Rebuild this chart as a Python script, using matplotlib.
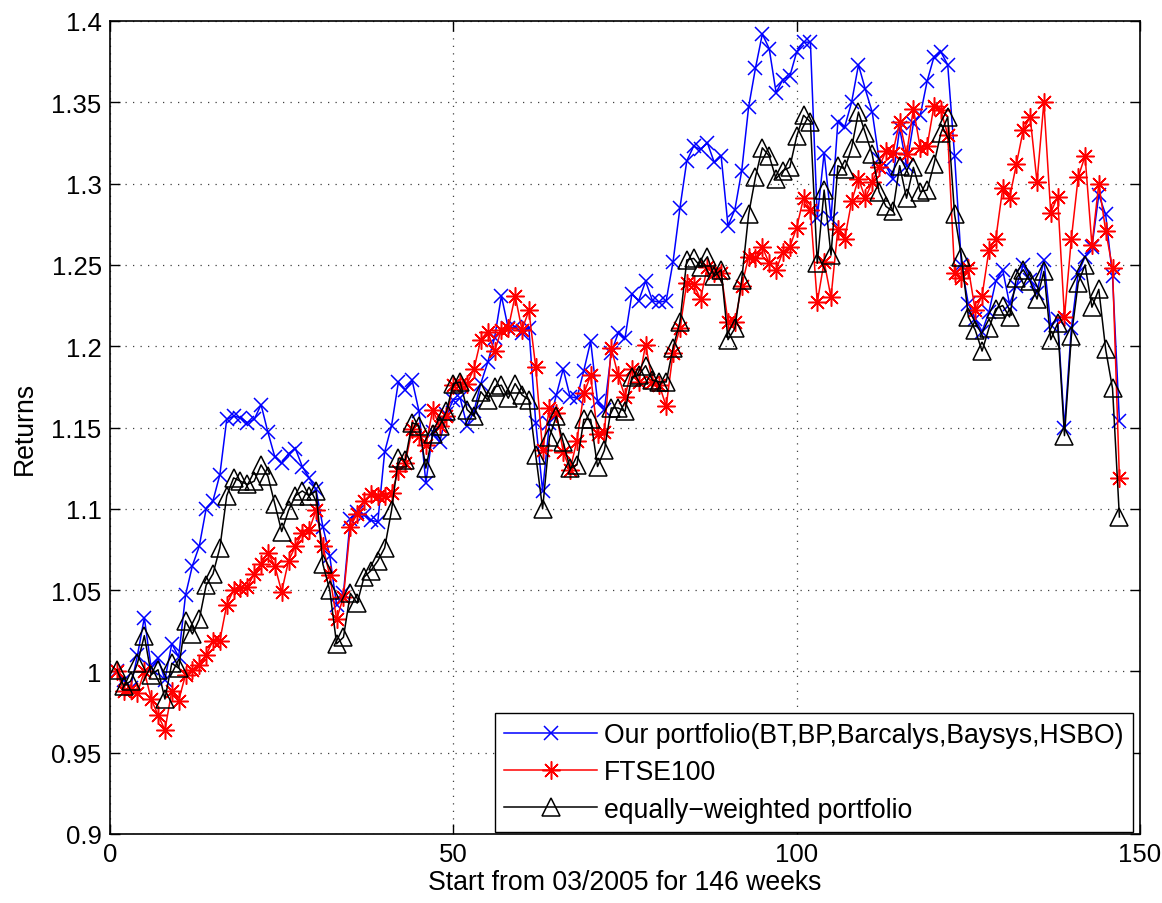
import matplotlib
matplotlib.use("Agg")
import matplotlib.pyplot as plt
import numpy as np

weeks = list(range(1, 148))

our_portfolio = [
    1.000, 0.995, 0.990, 1.010, 1.033, 1.002, 1.008, 0.995, 1.017, 1.009,
    1.047, 1.065, 1.077, 1.100, 1.105, 1.121, 1.155, 1.157, 1.156, 1.153,
    1.155, 1.164, 1.147, 1.132, 1.128, 1.134, 1.137, 1.126, 1.119, 1.112,
    1.089, 1.071, 1.041, 1.048, 1.094, 1.098, 1.096, 1.093, 1.092, 1.135,
    1.151, 1.178, 1.173, 1.179, 1.160, 1.116, 1.147, 1.141, 1.158, 1.167,
    1.168, 1.151, 1.160, 1.177, 1.190, 1.205, 1.231, 1.211, 1.212, 1.208,
    1.211, 1.153, 1.111, 1.153, 1.170, 1.186, 1.169, 1.168, 1.185, 1.203,
    1.166, 1.161, 1.196, 1.208, 1.205, 1.232, 1.228, 1.240, 1.228, 1.227,
    1.228, 1.252, 1.285, 1.314, 1.323, 1.321, 1.325, 1.313, 1.317, 1.274,
    1.284, 1.308, 1.347, 1.371, 1.392, 1.383, 1.356, 1.364, 1.366, 1.381,
    1.387, 1.387, 1.279, 1.319, 1.278, 1.338, 1.335, 1.350, 1.373, 1.358,
    1.344, 1.315, 1.311, 1.303, 1.334, 1.311, 1.337, 1.342, 1.363, 1.378,
    1.381, 1.373, 1.317, 1.250, 1.226, 1.217, 1.209, 1.221, 1.240, 1.247,
    1.226, 1.237, 1.250, 1.241, 1.233, 1.253, 1.213, 1.217, 1.150, 1.211,
    1.245, 1.255, 1.261, 1.293, 1.281, 1.243, 1.154,
]

ftse100 = [
    1.000, 0.988, 0.989, 0.987, 1.000, 0.983, 0.973, 0.964, 0.988, 0.982,
    0.998, 1.001, 1.004, 1.010, 1.019, 1.019, 1.041, 1.050, 1.051, 1.052,
    1.060, 1.066, 1.073, 1.065, 1.049, 1.068, 1.077, 1.085, 1.087, 1.099,
    1.077, 1.059, 1.032, 1.046, 1.089, 1.097, 1.105, 1.109, 1.108, 1.108,
    1.110, 1.123, 1.128, 1.149, 1.145, 1.139, 1.161, 1.151, 1.157, 1.176,
    1.177, 1.177, 1.186, 1.204, 1.209, 1.197, 1.210, 1.211, 1.231, 1.210,
    1.222, 1.187, 1.136, 1.162, 1.159, 1.135, 1.124, 1.142, 1.171, 1.182,
    1.146, 1.147, 1.199, 1.182, 1.169, 1.186, 1.178, 1.201, 1.178, 1.176,
    1.163, 1.196, 1.211, 1.239, 1.238, 1.229, 1.249, 1.245, 1.245, 1.215,
    1.215, 1.237, 1.255, 1.254, 1.261, 1.251, 1.247, 1.258, 1.261, 1.273,
    1.291, 1.284, 1.227, 1.252, 1.230, 1.272, 1.266, 1.289, 1.303, 1.291,
    1.301, 1.310, 1.320, 1.319, 1.338, 1.318, 1.346, 1.322, 1.323, 1.348,
    1.345, 1.330, 1.245, 1.242, 1.248, 1.222, 1.231, 1.259, 1.266, 1.297,
    1.291, 1.312, 1.333, 1.341, 1.301, 1.350, 1.282, 1.292, 1.218, 1.266,
    1.304, 1.317, 1.262, 1.300, 1.271, 1.248, 1.119,
]

equal_weighted = [
    1.001, 0.991, 0.994, 1.005, 1.022, 0.998, 1.001, 0.983, 1.005, 1.002,
    1.031, 1.023, 1.032, 1.053, 1.060, 1.076, 1.108, 1.119, 1.117, 1.115,
    1.117, 1.127, 1.120, 1.103, 1.086, 1.099, 1.108, 1.111, 1.108, 1.111,
    1.066, 1.050, 1.017, 1.021, 1.048, 1.042, 1.058, 1.062, 1.068, 1.076,
    1.099, 1.131, 1.130, 1.153, 1.151, 1.125, 1.146, 1.151, 1.160, 1.177,
    1.178, 1.161, 1.157, 1.172, 1.167, 1.175, 1.176, 1.168, 1.177, 1.170,
    1.167, 1.133, 1.100, 1.144, 1.157, 1.141, 1.125, 1.127, 1.155, 1.155,
    1.126, 1.136, 1.162, 1.162, 1.160, 1.181, 1.182, 1.188, 1.179, 1.178,
    1.178, 1.199, 1.215, 1.253, 1.254, 1.249, 1.255, 1.243, 1.247, 1.204,
    1.211, 1.241, 1.281, 1.304, 1.322, 1.317, 1.303, 1.308, 1.310, 1.329,
    1.342, 1.338, 1.251, 1.296, 1.256, 1.311, 1.309, 1.322, 1.344, 1.331,
    1.318, 1.295, 1.286, 1.283, 1.311, 1.291, 1.310, 1.295, 1.296, 1.312,
    1.331, 1.341, 1.281, 1.255, 1.218, 1.210, 1.197, 1.211, 1.223, 1.225,
    1.218, 1.242, 1.247, 1.240, 1.229, 1.246, 1.204, 1.214, 1.145, 1.206,
    1.239, 1.250, 1.224, 1.235, 1.198, 1.174, 1.095,
]

series_labels = [
    "Our portfolio(BT,BP,Barcalys,Baysys,HSBO)",
    "FTSE100",
    "equally\u2212weighted portfolio",
]

x_ticks = [0, 50, 100, 150]
y_ticks = [0.9, 0.95, 1.0, 1.05, 1.1, 1.15, 1.2, 1.25, 1.3, 1.35, 1.4]
y_tick_labels = ["0.9", "0.95", "1", "1.05", "1.1", "1.15", "1.2", "1.25", "1.3", "1.35", "1.4"]

plt.rcParams['font.family'] = ['Liberation Sans', 'DejaVu Sans']
plt.rcParams['font.size'] = 18.5

fig = plt.figure(figsize=(11.62, 9.04), dpi=100)
ax = fig.add_axes([110 / 1162, (904 - 835) / 904, (1140 - 110) / 1162, (835 - 22) / 904])

ax.plot(weeks, our_portfolio, color=(0, 0, 1), linewidth=1.1, marker='x',
        markersize=10, markeredgewidth=1.1, label=series_labels[0])
ax.plot(weeks, ftse100, color=(1, 0, 0), linewidth=1.1, marker=(8, 2, 0),
        markersize=13, markeredgewidth=1.1, label=series_labels[1])
ax.plot(weeks, equal_weighted, color='black', linewidth=1.1, marker='^',
        markersize=13, markerfacecolor='none', markeredgecolor='black',
        markeredgewidth=1.1, label=series_labels[2])

ax.set_xlim(0, 150)
ax.set_ylim(0.9, 1.4)
ax.set_xticks(x_ticks)
ax.set_xticklabels([str(t) for t in x_ticks])
ax.set_yticks(y_ticks)
ax.set_yticklabels(y_tick_labels)

ax.grid(True, linestyle=(0, (1, 5)), color='0.25', linewidth=0.9)
ax.tick_params(direction='in', length=7, width=1, top=True, right=True,
               labelsize=18.5, pad=6)
for sp in ax.spines.values():
    sp.set_linewidth(1.2)

ax.set_xlabel("Start from 03/2005 for 146 weeks", fontsize=19.2, labelpad=2)
ax.set_ylabel("Returns", fontsize=19.2, labelpad=10)

leg = ax.legend(loc='lower right', bbox_to_anchor=((1133 - 110) / 1030, (835 - 833) / 813),
                fancybox=False, edgecolor='black', framealpha=1, handlelength=3.5,
                fontsize=19.2, borderpad=0.35, labelspacing=0.42, handletextpad=0.25,
                borderaxespad=0)
leg.get_frame().set_linewidth(1.0)

fig.savefig("out.png", dpi=100)
